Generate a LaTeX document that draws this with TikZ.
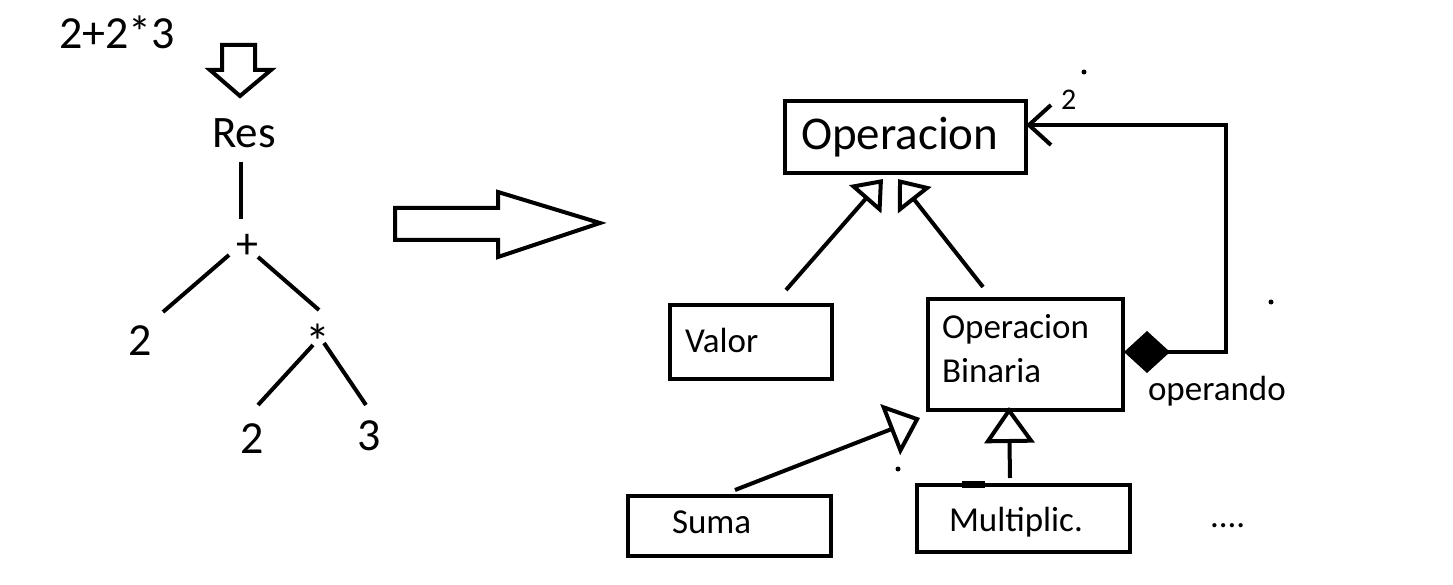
\documentclass[tikz,border=0pt]{standalone}
\usepackage{fontspec}
\setmainfont{Carlito}
\usetikzlibrary{arrows.meta}
\begin{document}
\begin{tikzpicture}[x=1pt,y=-1pt,line width=4pt,
  bigtxt/.style={font=\fontsize{46pt}{52pt}\selectfont,inner sep=0pt},
  hugetxt/.style={font=\fontsize{47pt}{52pt}\selectfont,inner sep=0pt,anchor=base west},
  midtxt/.style={font=\fontsize{35pt}{40pt}\selectfont,inner sep=0pt,anchor=base west},
  smalltxt/.style={font=\fontsize{30pt}{34pt}\selectfont,inner sep=0pt,anchor=base west},
  umlbox/.style={draw,line width=4pt,inner sep=0pt,anchor=north west},
  fatarrow/.style={draw,line width=4pt,line join=miter,fill=white},
  speck/.style={fill=black,draw=none}
]
\useasboundingbox (0,0) rectangle (1453,585);
\fill[white] (0,0) rectangle (1453,585);

% ---------- left: expression and tree ----------
\node[bigtxt,anchor=base west] (expr) at (57,49) {2+2*3};
\draw[fatarrow] (222,45) -- (255,45) -- (255,70) -- (271,70) -- (240,96) -- (210,70) -- (222,70) -- cycle;
\node[bigtxt,anchor=base,font=\fontsize{45pt}{50pt}\selectfont] (res) at (244,148) {Res};
\node[bigtxt,anchor=base,font=\fontsize{44pt}{50pt}\selectfont] (plus) at (247,259) {+};
\node[bigtxt,anchor=base] (twoA) at (140,355) {2};
\node[bigtxt,anchor=base,font=\fontsize{50pt}{54pt}\selectfont] (star) at (318,359) {*};
\node[bigtxt,anchor=base] (twoB) at (252,453) {2};
\node[bigtxt,anchor=base] (three) at (369,450) {3};

\coordinate (resS) at (241,162);  \coordinate (plusN) at (241,219);
\coordinate (plusW) at (229,255); \coordinate (twoAN) at (163,312);
\coordinate (plusE) at (258,257); \coordinate (starN) at (319,310);
\coordinate (starW) at (313,345); \coordinate (twoBN) at (258,405);
\coordinate (starE) at (324,343); \coordinate (threeN) at (366,405);
\draw (resS) -- (plusN);
\draw (plusW) -- (twoAN);
\draw (plusE) -- (starN);
\draw (starW) -- (twoBN);
\draw (starE) -- (threeN);

% big arrow
\draw[fatarrow] (395,208) -- (498,208) -- (498,192) -- (600,223) -- (498,257) -- (498,240) -- (395,240) -- cycle;

% ---------- right: class diagram ----------
\node[umlbox,minimum width=241pt,minimum height=72pt] (operacion) at (783,99) {};
\node[hugetxt] (operacionT) at (799,150) {Operacion};

\node[umlbox,minimum width=162pt,minimum height=74pt] (valor) at (668,303) {};
\node[midtxt] (valorT) at (683,352) {Valor};

\node[umlbox,minimum width=195pt,minimum height=111pt] (opbin) at (926,297) {};
\node[midtxt] (opbinT1) at (940,338) {Operacion};
\node[midtxt] (opbinT2) at (940,382) {Binaria};

\node[umlbox,minimum width=203pt,minimum height=60pt] (suma) at (626,494) {};
\node[midtxt] (sumaT) at (670,533) {Suma};

\node[umlbox,minimum width=213pt,minimum height=67pt] (mult) at (915,483) {};
\node[midtxt] (multT) at (947,531) {Multiplic.};
\fill (962,481) rectangle (985,488);

\node[midtxt] (dots) at (1208,527) {....};

% generalisations
\coordinate (valorTop) at (786,290);  \coordinate (genA) at (883,179);
\coordinate (opbinTop) at (983,287);  \coordinate (genB) at (898,179);
\coordinate (sumaTop) at (735,490);   \coordinate (genC) at (920,418);
\coordinate (multTop) at (1010,478);  \coordinate (genD) at (1009,407);
\draw[-{Triangle[open,length=27pt,width=42pt]}] (valorTop) -- (genA);
\draw[-{Triangle[open,length=27pt,width=42pt]}] (opbinTop) -- (genB);
\draw[-{Triangle[open,length=32pt,width=54pt]}] (sumaTop) -- (genC);
\draw[-{Triangle[open,length=36pt,width=50pt]}] (multTop) -- (genD);

% composition
\coordinate (diamL) at (1124,352);
\coordinate (cornerB) at (1226,352);
\coordinate (cornerT) at (1226,125);
\coordinate (opRight) at (1026,125);
\draw[line join=miter,{Diamond[length=46pt,width=42pt]}-{Straight Barb[length=22pt,width=40pt]}]
  (diamL) -- (cornerB) -- (cornerT) -- (opRight);
\node[smalltxt] (mult2) at (1059,110) {2};
\node[midtxt] (operando) at (1146,400) {operando};

% stray specks
\fill[speck] (1084,72) circle (2.5pt);
\fill[speck] (1271,302) circle (2.5pt);
\fill[speck] (898,469) circle (2.5pt);
\end{tikzpicture}
\end{document}
